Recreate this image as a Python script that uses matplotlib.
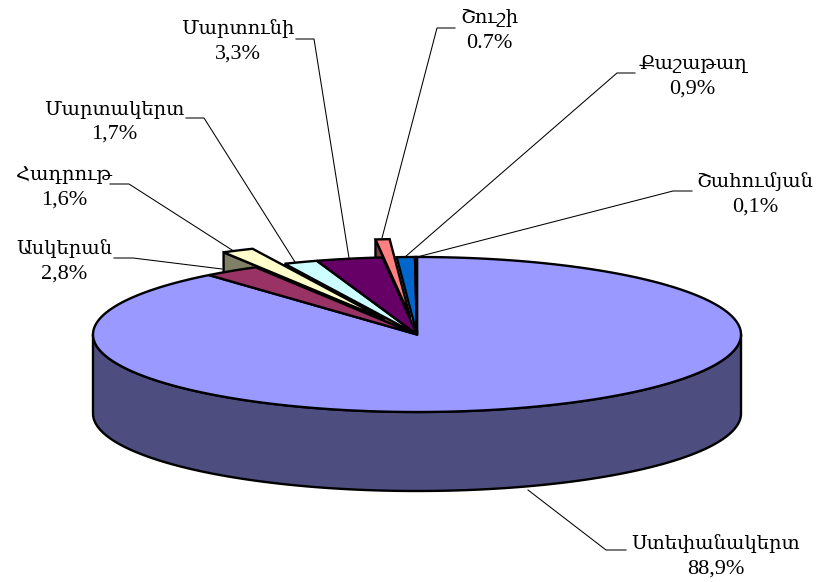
"""Exploded pseudo-3D pie of regional shares, drawn on a pixel-sized axes."""
import numpy as np
import matplotlib
matplotlib.use("Agg")
import matplotlib.pyplot as plt
from matplotlib.patches import Polygon

# clockwise from twelve o'clock
names = ["Ստեփանակերտ", "Ասկերան", "Հադրութ", "Մարտակերտ",
         "Մարտունի", "Շուշի", "Քաշաթաղ", "Շահումյան"]
shares = [88.9, 2.8, 1.6, 1.7, 3.3, 0.7, 0.9, 0.1]
share_labels = ["88,9%", "2,8%", "1,6%", "1,7%", "3,3%", "0.7%", "0,9%", "0,1%"]

colors = ["#9999ff", "#993366", "#ffffcc", "#ccffff",
          "#660066", "#ff8080", "#0066cc", "#ccccff"]
label_xy = [(716, 544), (64, 249), (64, 175), (114, 109),
            (238, 29), (489, 18), (692, 64), (755, 182)]
leaders = [
    [(528, 490), (606, 550), (626, 550)],
    [(114, 258), (133, 258), (222, 269)],
    [(110, 184), (129, 184), (232, 250)],
    [(186, 118), (204, 118), (295, 262)],
    [(296, 39), (314, 39), (349, 258)],
    [(455, 28), (437, 28), (382, 238)],
    [(635, 73), (617, 73), (405, 257)],
    [(692, 191), (673, 191), (417, 257)],
]
# wedges pulled out of the pie, index -> pixel offset
exploded = {2: (-32, -15), 5: (-7, -18)}

CX, CY, RX, RY, DEPTH = 417, 334.5, 324, 77.5, 79
EDGE = 1.7


def rim(t0, t1, dx=0, dy=0):
    t = np.radians(np.linspace(t0, t1, max(int(abs(t1 - t0) * 2), 2)))
    return np.column_stack([CX + dx + RX * np.sin(t), CY + dy - RY * np.cos(t)])


def darker(color):
    rgb = np.array(matplotlib.colors.to_rgb(color))
    return tuple(rgb * 0.5)


fig = plt.figure(figsize=(8.23, 5.82), dpi=100)
ax = fig.add_axes([0, 0, 1, 1])
ax.set_xlim(0, 823)
ax.set_ylim(582, 0)
ax.axis("off")

edges = np.concatenate([[0], np.cumsum(shares)]) / sum(shares) * 360

# cut faces of the pulled-out wedges sit behind everything else
for i, (dx, dy) in exploded.items():
    corner = rim(edges[i], edges[i], dx, dy)[0]
    apex = (CX + dx, CY + dy)
    face = [corner, apex, (apex[0], apex[1] + DEPTH), (corner[0], corner[1] + DEPTH)]
    ax.add_patch(Polygon(face, fc=darker(colors[i]), ec="black", lw=EDGE, zorder=1))

# front wall of the big slice
front = rim(90, 270)
wall = np.vstack([front, front[::-1] + (0, DEPTH)])
ax.add_patch(Polygon(wall, fc="#4d4d80", ec="black", lw=EDGE, zorder=2))

for i, color in enumerate(colors):
    dx, dy = exploded.get(i, (0, 0))
    pts = np.vstack([[(CX + dx, CY + dy)], rim(edges[i], edges[i + 1], dx, dy)])
    z = 4 if i in exploded else 3
    ax.add_patch(Polygon(pts, fc=color, ec="black", lw=EDGE, joinstyle="miter", zorder=z))

for path in leaders:
    xs, ys = zip(*path)
    ax.plot(xs, ys, color="black", lw=0.75, zorder=5)

for name, share, (x, y) in zip(names, share_labels, label_xy):
    ax.text(x, y, name, ha="center", va="center", fontsize=14, color="black",
            family=["Liberation Serif", "DejaVu Serif"])
    ax.text(x, y + 25.5, share, ha="center", va="center", fontsize=16, color="black",
            family=["Liberation Serif", "DejaVu Serif"])

fig.savefig("out.png", dpi=100, facecolor="white")
